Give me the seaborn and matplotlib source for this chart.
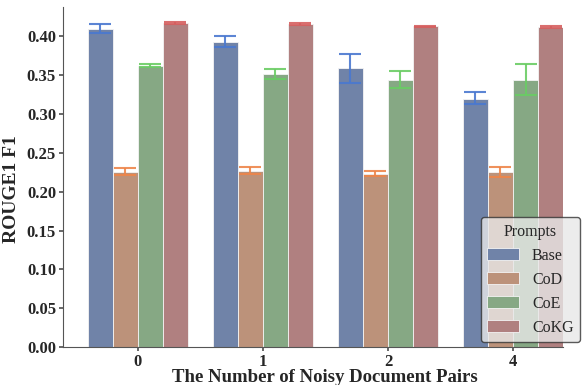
import numpy as np
import pandas as pd
import seaborn as sns
import matplotlib
matplotlib.use("Agg")
import matplotlib.pyplot as plt

groups = ["0", "1", "2", "4"]
prompts = ["Base", "CoD", "CoE", "CoKG"]
base = [0.410, 0.393, 0.359, 0.320]
cod = [0.225, 0.227, 0.223, 0.225]
coe = [0.362, 0.351, 0.344, 0.344]
cokg = [0.417, 0.416, 0.413, 0.412]
base_lo = [0.405, 0.387, 0.340, 0.313]
base_hi = [0.416, 0.400, 0.378, 0.328]
cod_lo = [0.221, 0.223, 0.220, 0.219]
cod_hi = [0.231, 0.232, 0.227, 0.232]
coe_lo = [0.360, 0.345, 0.333, 0.324]
coe_hi = [0.365, 0.358, 0.356, 0.365]
cokg_lo = [0.416, 0.415, 0.4125, 0.411]
cokg_hi = [0.419, 0.417, 0.414, 0.414]

bar_colors = ["#7083a8", "#bc927a", "#86a884", "#b08080"]
err_colors = ["#4a78d0", "#ee854a", "#6acc64", "#d65f5f"]

vals = {"Base": base, "CoD": cod, "CoE": coe, "CoKG": cokg}
los = {"Base": base_lo, "CoD": cod_lo, "CoE": coe_lo, "CoKG": cokg_lo}
his = {"Base": base_hi, "CoD": cod_hi, "CoE": coe_hi, "CoKG": cokg_hi}

rows = []
for p in prompts:
    for i, g in enumerate(groups):
        rows.append({"Pairs": g, "Prompts": p, "score": vals[p][i]})
df = pd.DataFrame(rows)

sns.set_theme(style="white")
plt.rcParams["font.family"] = ["Liberation Serif", "DejaVu Serif"]

fig, ax = plt.subplots(figsize=(5.83, 3.85), dpi=100)
sns.barplot(data=df, x="Pairs", y="score", hue="Prompts", order=groups,
            hue_order=prompts, palette=bar_colors, errorbar=None, saturation=1,
            edgecolor="#f4f4f4", linewidth=0.6, ax=ax)

n = len(groups)
for k, p in enumerate(prompts):
    patches = ax.patches[k * n:(k + 1) * n]
    xs = [pt.get_x() + pt.get_width() / 2 for pt in patches]
    v = np.array(vals[p])
    lo = v - np.array(los[p])
    hi = np.array(his[p]) - v
    ax.errorbar(xs, v, yerr=[lo, hi], fmt="none", ecolor=err_colors[k],
                elinewidth=1.5, capsize=8, capthick=1.5, alpha=0.9)

ax.set_xlim(-0.6, 3.4)
ax.set_ylim(0, 0.438)
ticks = np.arange(0, 0.41, 0.05)
ax.set_yticks(ticks)
ax.set_yticklabels([f"{t:.2f}" for t in ticks])
ax.set_xlabel("The Number of Noisy Document Pairs", fontsize=13.5, fontweight="bold")
ax.xaxis.set_label_coords(0.524, -0.065)
ax.set_ylabel("ROUGE1 F1", fontsize=14, fontweight="bold")
ax.yaxis.set_label_coords(-0.085, 0.463)
for lab in ax.get_xticklabels() + ax.get_yticklabels():
    lab.set_fontweight("bold")
    lab.set_fontsize(12)
ax.tick_params(axis="both", length=3, pad=2, color="#555555", left=True, bottom=True)
sns.despine(ax=ax)
for s in ["left", "bottom"]:
    ax.spines[s].set_color("#555555")
    ax.spines[s].set_linewidth(0.8)

leg = ax.legend(title="Prompts", loc="lower right", fontsize=11.5, title_fontsize=11.5,
                frameon=True, fancybox=True, borderaxespad=0,
                bbox_to_anchor=(1.034, 0.015))
leg.get_frame().set_edgecolor("#333333")
leg.get_frame().set_facecolor("#e8e8e8")
leg.get_frame().set_alpha(0.8)

fig.subplots_adjust(left=0.108, right=0.9657, top=0.982, bottom=0.0987)
fig.savefig("out.png", dpi=100)
